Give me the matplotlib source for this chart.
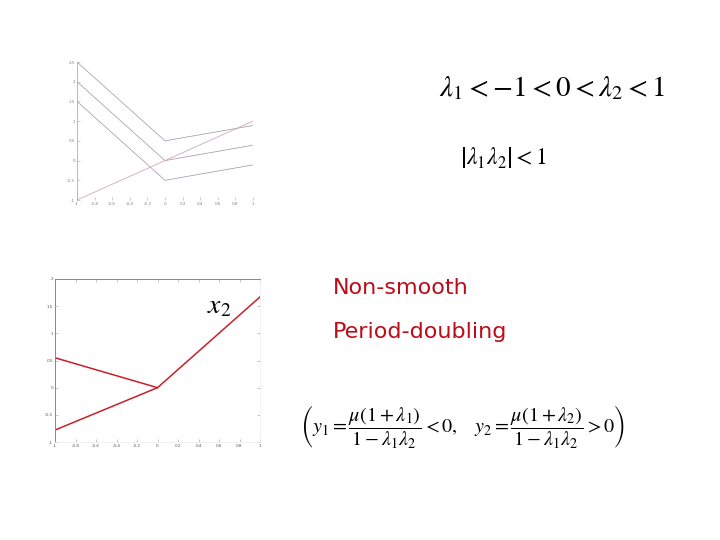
import matplotlib
matplotlib.use("Agg")
import matplotlib.pyplot as plt

plt.rcParams['mathtext.fontset'] = 'stix'

# ---- data ----
top_x = [-1, 0, 1]
top_a = [2.5, 0.5, 0.89]
top_b = [2.0, 0.0, 0.39]
top_c = [1.5, -0.5, -0.11]
top_d = [-1.0, 0.0, 1.0]
top_xticks = [-1, -0.8, -0.6, -0.4, -0.2, 0, 0.2, 0.4, 0.6, 0.8, 1]
top_xticklabels = ['-1', '-0.8', '-0.6', '-0.4', '-0.2', '0', '0.2', '0.4', '0.6', '0.8', '1']
top_yticks = [-1, -0.5, 0, 0.5, 1, 1.5, 2, 2.5]
top_yticklabels = ['-1', '-0.5', '0', '0.5', '1', '1.5', '2', '2.5']

bot_x1 = [-1, 0]
bot_y1 = [0.55, 0.0]
bot_x2 = [-1, 0, 1]
bot_y2 = [-0.78, 0.0, 1.67]
bot_xticks = [-1, -0.8, -0.6, -0.4, -0.2, 0, 0.2, 0.4, 0.6, 0.8, 1]
bot_xticklabels = ['-1', '-0.8', '-0.6', '-0.4', '-0.2', '0', '0.2', '0.4', '0.6', '0.8', '1']
bot_yticks = [-1, -0.5, 0, 0.5, 1, 1.5, 2]
bot_yticklabels = ['-1', '-0.5', '0', '0.5', '1', '1.5', '2']

fig = plt.figure(figsize=(7.2, 5.4), dpi=100)
W, H = 720, 540

def add_axes_px(l, t, r, b):
    return fig.add_axes([l / W, 1 - b / H, (r - l) / W, (b - t) / H])

# ---- top plot ----
ax1 = add_axes_px(77, 62, 253, 200)
gray = '#a49cac'
ax1.plot(top_x, top_a, color=gray, lw=0.55)
ax1.plot(top_x, top_b, color=gray, lw=0.55)
ax1.plot(top_x, top_c, color=gray, lw=0.55)
ax1.plot(top_x, top_d, color='#cca4b2', lw=0.55)
ax1.set_xlim(-1, 1)
ax1.set_ylim(-1, 2.5)
ax1.set_xticks(top_xticks)
ax1.set_xticklabels(top_xticklabels)
ax1.set_yticks(top_yticks)
ax1.set_yticklabels(top_yticklabels)
for s in ['top', 'right', 'bottom']:
    ax1.spines[s].set_visible(False)
ax1.spines['left'].set_color('#b0b0b0')
ax1.spines['left'].set_linewidth(0.6)
ax1.tick_params(direction='in', length=2, width=0.4, colors='#a8a8a8',
                labelsize=3, labelcolor='#808080', pad=1.5)

# ---- bottom plot ----
ax2 = add_axes_px(55, 279, 260, 442)
red = '#c8202a'
ax2.plot(bot_x1, bot_y1, color=red, lw=1.1)
ax2.plot(bot_x2, bot_y2, color=red, lw=1.1)
ax2.set_xlim(-1, 1)
ax2.set_ylim(-1, 2)
ax2.set_xticks(bot_xticks)
ax2.set_xticklabels(bot_xticklabels)
ax2.set_yticks(bot_yticks)
ax2.set_yticklabels(bot_yticklabels)
for s in ['top', 'left']:
    ax2.spines[s].set_color('#888888')
    ax2.spines[s].set_linewidth(0.7)
for s in ['right', 'bottom']:
    ax2.spines[s].set_color('#ececec')
    ax2.spines[s].set_linewidth(0.5)
ax2.tick_params(direction='in', length=2, width=0.4, colors='#999999',
                labelsize=3, labelcolor='#555555', pad=1.5,
                top=True, right=True)
ax2.text(0.6, 1.52, r'$x_2$', fontsize=20, ha='center', va='center', color='black')

# ---- text ----
fig.text(552 / W, 1 - 88 / H, r'$\lambda_1 < -1 < 0 < \lambda_2 < 1$',
         fontsize=21, ha='center', va='center')
fig.text(503 / W, 1 - 157 / H, r'$\left|\lambda_1\lambda_2\right| < 1$',
         fontsize=17, ha='center', va='center')
fig.text(333 / W, 1 - 288 / H, 'Non-smooth', fontsize=16, color='#bc0c18',
         ha='left', va='center')
fig.text(333 / W, 1 - 332 / H, 'Period-doubling', fontsize=16, color='#bc0c18',
         ha='left', va='center')
fig.text(463 / W, 1 - 426 / H,
         r'$\left(y_1=\dfrac{\mu(1+\lambda_1)}{1-\lambda_1\lambda_2}<0,\quad y_2=\dfrac{\mu(1+\lambda_2)}{1-\lambda_1\lambda_2}>0\right)$',
         fontsize=14.5, ha='center', va='center')

fig.savefig('out.png', dpi=100)
